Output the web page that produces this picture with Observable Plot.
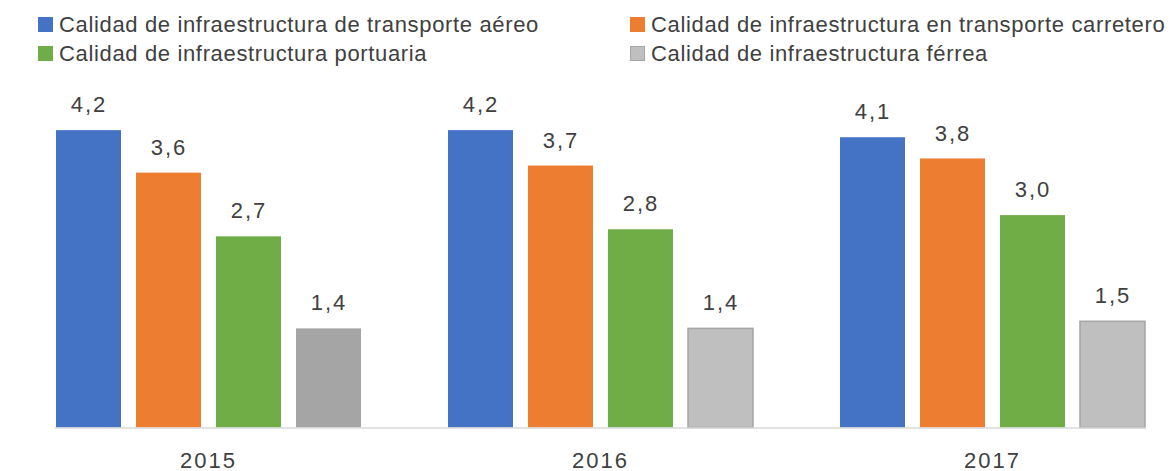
<!DOCTYPE html>
<html>
<head>
<meta charset="utf-8">
<script src="https://cdn.jsdelivr.net/npm/d3@7"></script>
<script src="https://cdn.jsdelivr.net/npm/@observablehq/plot@0.6"></script>
<style>
  html, body { margin: 0; padding: 0; background: #fff; }
  body { width: 1174px; height: 471px; overflow: hidden; font-family: "Liberation Sans", Arial, sans-serif; color: #404040; }
  #legend { position: relative; height: 70px; }
  .item { position: absolute; display: flex; align-items: center; font-size: 22px; letter-spacing: 0.65px; white-space: nowrap; }
  .sw { width: 15px; height: 15px; margin-right: 6px; box-sizing: border-box; }
  #chart svg { display: block; overflow: visible; }
</style>
</head>
<body>
<div id="legend"></div>
<div id="chart"></div>
<script>
const years = ["2015", "2016", "2017"];
const series = [
  "Calidad de infraestructura de transporte aéreo",
  "Calidad de infraestructura en transporte carretero",
  "Calidad de infraestructura portuaria",
  "Calidad de infraestructura férrea"
];
const aereo = [4.2, 4.2, 4.1];
const carretero = [3.6, 3.7, 3.8];
const portuaria = [2.7, 2.8, 3.0];
const ferrea = [1.4, 1.4, 1.5];
const colors = ["#4472C4", "#ED7D31", "#70AD47", "#BFBFBF"];

const valuesBySerie = [aereo, carretero, portuaria, ferrea];
const data = [];
years.forEach((y, yi) => series.forEach((s, si) => data.push({year: y, serie: s, value: valuesBySerie[si][yi]})));

// legend
const legend = document.getElementById("legend");
const legendPos = [[38, 24.5], [630, 24.5], [38, 53.5], [630, 53.5]];
series.forEach((s, i) => {
  const it = document.createElement("div");
  it.className = "item";
  it.style.left = legendPos[i][0] + "px";
  it.style.top = (legendPos[i][1] - 13) + "px";
  it.style.height = "26px";
  const sw = document.createElement("span");
  sw.className = "sw";
  sw.style.background = colors[i];
  if (i === 3) sw.style.border = "1px solid #A5A5A5";
  it.appendChild(sw);
  const t = document.createElement("span");
  t.textContent = s;
  it.appendChild(t);
  legend.appendChild(it);
});

const fmt = v => v.toFixed(1).replace(".", ",");
const isFerrea = d => d.serie === series[3];
const fillOf = d => isFerrea(d) ? (d.year === years[0] ? "#A5A5A5" : "#BFBFBF") : colors[series.indexOf(d.serie)];

const chart = Plot.plot({
  width: 1174,
  height: 401,
  marginLeft: 11,
  marginRight: 0,
  marginTop: 3.5,
  marginBottom: 43.5,
  style: {fontFamily: "Liberation Sans, Arial, sans-serif", fontSize: "22px", color: "#404040", background: "#fff", letterSpacing: "2px"},
  fx: {domain: years, range: [53.5, 1146], paddingInner: 0.22, paddingOuter: 0, label: null, axis: "bottom", tickSize: 0, tickPadding: 24},
  x: {domain: series, paddingInner: 0.193, paddingOuter: 0, axis: null},
  y: {domain: [0, 5], axis: null},
  marks: [
    Plot.barY(data, {fx: "year", x: "serie", y: "value", fill: fillOf,
      stroke: d => isFerrea(d) && d.year !== years[0] ? "#A5A5A5" : "none", strokeWidth: 1.5}),
    Plot.frame({anchor: "bottom", facet: "super", stroke: "#D9D9D9", strokeWidth: 1.5}),
    Plot.text(data, {fx: "year", x: "serie", y: "value", text: d => fmt(d.value), dy: -25.5,
      fill: "#404040", fontSize: 22})
  ]
});
document.getElementById("chart").appendChild(chart);
</script>
</body>
</html>
